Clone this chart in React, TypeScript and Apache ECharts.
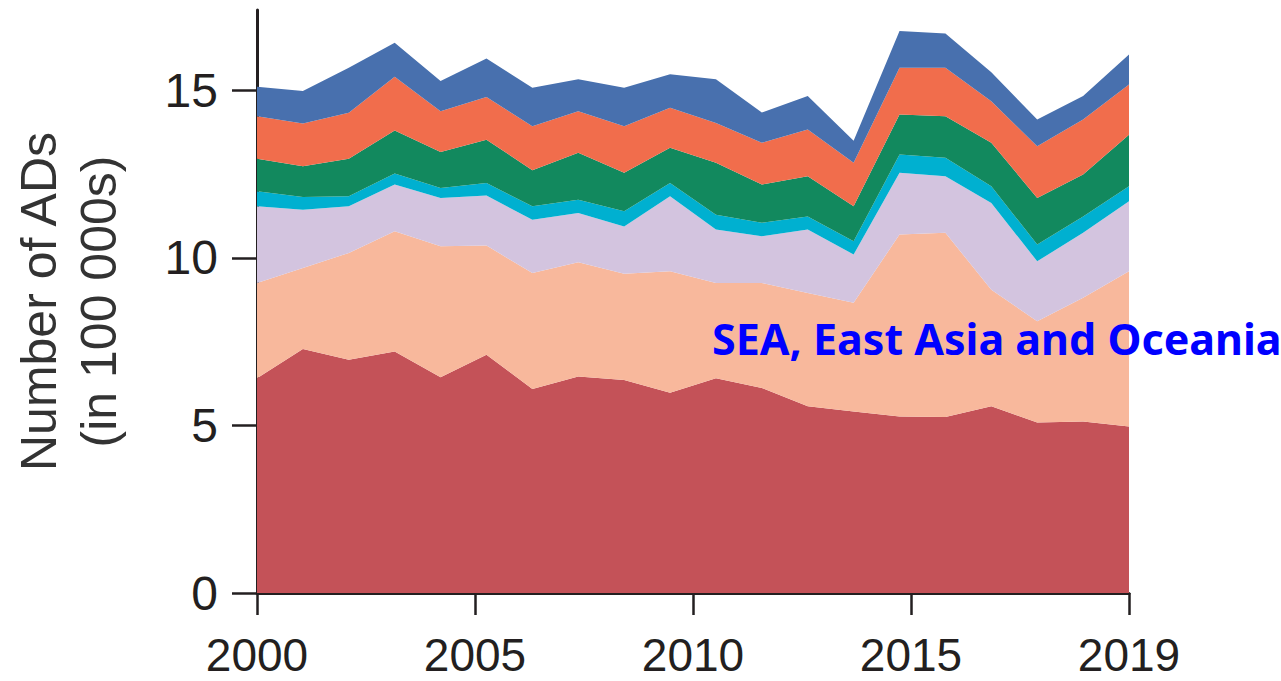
import React, { useEffect, useRef } from "react";
import * as echarts from "echarts";

const years = [
  "2000", "2001", "2002", "2003", "2004", "2005", "2006", "2007", "2008", "2009",
  "2010", "2011", "2012", "2013", "2014", "2015", "2016", "2017", "2018", "2019",
];
const xTickLabels = ["2000", "2005", "2010", "2015", "2019"];

// stacked layers, bottom to top (number of ADs, in 100 000s)
const regionRed = [6.41, 7.28, 6.96, 7.21, 6.44, 7.11, 6.09, 6.46, 6.36, 5.98, 6.41, 6.12, 5.57, 5.42, 5.27, 5.25, 5.57, 5.09, 5.12, 4.97];
const regionSEA = [2.84, 2.42, 3.19, 3.59, 3.91, 3.26, 3.46, 3.41, 3.17, 3.62, 2.84, 3.13, 3.38, 3.24, 5.43, 5.50, 3.48, 3.02, 3.69, 4.63];
const regionLavender = [2.29, 1.74, 1.39, 1.39, 1.44, 1.49, 1.59, 1.47, 1.41, 2.24, 1.60, 1.40, 1.90, 1.44, 1.84, 1.69, 2.59, 1.79, 1.94, 2.09];
const regionCyan = [0.45, 0.38, 0.30, 0.33, 0.30, 0.38, 0.40, 0.40, 0.45, 0.40, 0.44, 0.40, 0.39, 0.40, 0.55, 0.55, 0.50, 0.50, 0.49, 0.45];
const regionGreen = [0.97, 0.92, 1.12, 1.28, 1.07, 1.29, 1.08, 1.40, 1.15, 1.05, 1.55, 1.14, 1.20, 1.04, 1.19, 1.24, 1.30, 1.39, 1.25, 1.54];
const regionOrange = [1.27, 1.27, 1.37, 1.61, 1.22, 1.27, 1.31, 1.24, 1.39, 1.19, 1.19, 1.25, 1.39, 1.30, 1.40, 1.45, 1.24, 1.54, 1.64, 1.50];
const regionBlue = [0.88, 0.97, 1.35, 1.01, 0.90, 1.15, 1.15, 0.95, 1.15, 1.00, 1.30, 0.90, 1.00, 0.66, 1.09, 1.02, 0.86, 0.80, 0.70, 0.89];

const layers = [
  { name: "Region 1", data: regionRed, color: "#c45258" },
  { name: "SEA, East Asia and Oceania", data: regionSEA, color: "#f8b89c" },
  { name: "Region 3", data: regionLavender, color: "#d3c4df" },
  { name: "Region 4", data: regionCyan, color: "#00b0d0" },
  { name: "Region 5", data: regionGreen, color: "#12895e" },
  { name: "Region 6", data: regionOrange, color: "#f16d4c" },
  { name: "Region 7", data: regionBlue, color: "#4870ae" },
];

const AXIS = "#231f20";
const FONT = '"Liberation Sans", Arial, sans-serif';

export default function App() {
  const ref = useRef<HTMLDivElement>(null);

  useEffect(() => {
    if (!ref.current) return;
    const chart = echarts.init(ref.current, undefined, { renderer: "svg" });
    chart.setOption({
      animation: false,
      backgroundColor: "#ffffff",
      grid: {
        left: 257,
        right: 152,
        top: 10,
        bottom: 88,
        containLabel: false,
        outerBoundsMode: "none",
      },
      xAxis: [
        {
          type: "category",
          data: years,
          boundaryGap: false,
          show: false,
        },
        {
          type: "value",
          min: 0,
          max: 4,
          interval: 1,
          position: "bottom",
          axisLine: { show: true, lineStyle: { color: AXIS, width: 3 } },
          axisTick: { show: true, length: 22, lineStyle: { color: AXIS, width: 2.5 } },
          splitLine: { show: false },
          axisLabel: {
            show: true,
            showMinLabel: true,
            showMaxLabel: true,
            margin: 42,
            color: AXIS,
            fontSize: 46,
            lineHeight: 40,
            fontFamily: FONT,
            formatter: (v: number) => xTickLabels[Math.round(v)] ?? "",
          },
        },
      ],
      yAxis: {
        type: "value",
        min: 0,
        max: 17.4,
        interval: 5,
        axisLine: { show: true, lineStyle: { color: AXIS, width: 3 } },
        axisTick: { show: true, length: 25, lineStyle: { color: AXIS, width: 2.5 } },
        splitLine: { show: false },
        axisLabel: {
          margin: 39,
          color: AXIS,
          fontSize: 48,
          fontFamily: FONT,
          showMaxLabel: false,
        },
        name: "Number of ADs\n(in 100 000s)",
        nameLocation: "middle",
        nameRotate: 90,
        nameGap: 128,
        nameTextStyle: {
          color: "#333333",
          fontSize: 50,
          lineHeight: 60,
          fontFamily: FONT,
        },
      },
      series: layers.map((l) => ({
        name: l.name,
        type: "line",
        stack: "total",
        xAxisIndex: 0,
        data: l.data,
        symbol: "none",
        showSymbol: false,
        lineStyle: { width: 0, color: l.color },
        itemStyle: { color: l.color },
        areaStyle: { color: l.color, opacity: 1 },
        emphasis: { disabled: true },
      })),
      graphic: [
        {
          type: "text",
          x: 712,
          y: 338,
          z: 100,
          zlevel: 0,
          style: {
            text: "SEA, East Asia and Oceania",
            fill: "#0000ff",
            fontSize: 43,
            fontWeight: "bold",
            fontFamily: '"Noto Sans", "Open Sans", sans-serif',
            verticalAlign: "middle",
            align: "left",
          },
        },
      ],
    });
    return () => chart.dispose();
  }, []);

  return (
    <div
      ref={ref}
      style={{ position: "fixed", left: 0, top: 0, width: 1281, height: 681 }}
    />
  );
}
